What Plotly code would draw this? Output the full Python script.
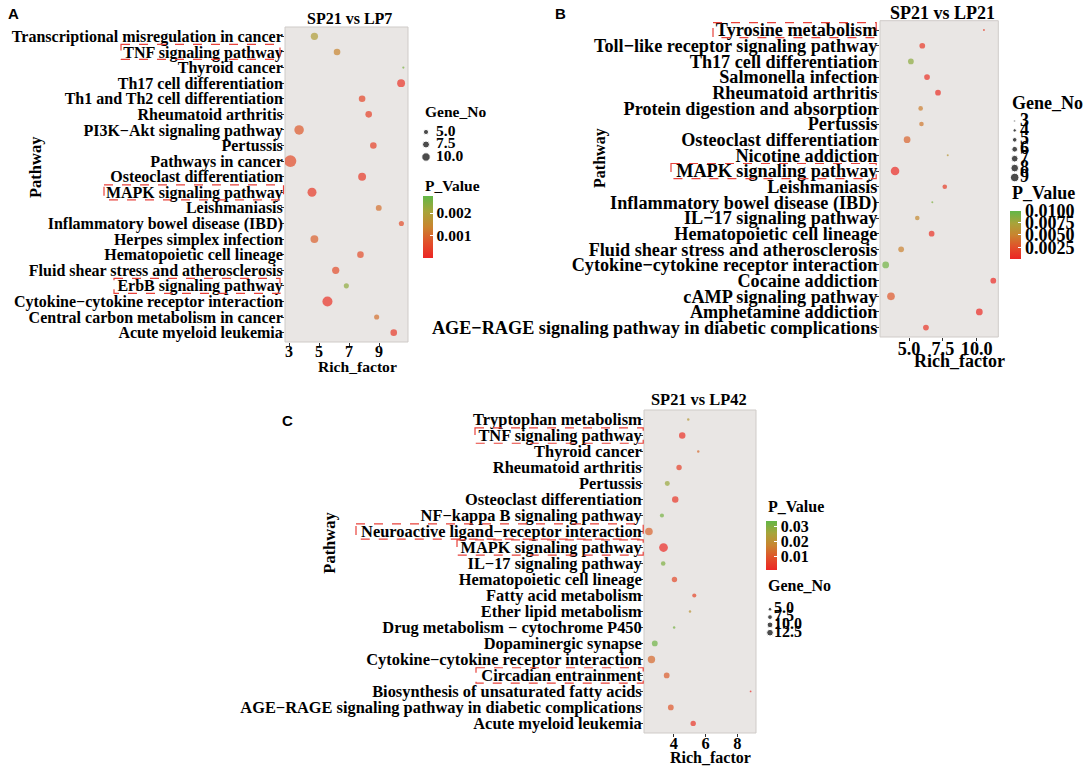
import numpy as np
import plotly.graph_objects as go

W, H = 1084, 776

# ---------------- data (rows listed top to bottom) ----------------
# A: SP21 vs LP7
pathways_a = [
    "Transcriptional misregulation in cancer", "TNF signaling pathway", "Thyroid cancer",
    "Th17 cell differentiation", "Th1 and Th2 cell differentiation", "Rheumatoid arthritis",
    "PI3K\u2212Akt signaling pathway", "Pertussis", "Pathways in cancer",
    "Osteoclast differentiation", "MAPK signaling pathway", "Leishmaniasis",
    "Inflammatory bowel disease (IBD)", "Herpes simplex infection", "Hematopoietic cell lineage",
    "Fluid shear stress and atherosclerosis", "ErbB signaling pathway",
    "Cytokine\u2212cytokine receptor interaction", "Central carbon metabolism in cancer",
    "Acute myeloid leukemia",
]
rich_a = [4.69, 6.2, 10.62, 10.47, 7.87, 8.31, 3.67, 8.62, 3.09, 7.87,
          4.53, 8.98, 10.49, 4.69, 7.76, 6.11, 6.82, 5.56, 8.84, 9.98]
gene_a = [8, 7, 2, 9, 7, 7, 12, 7, 17, 9, 11, 6, 5, 9, 7, 8, 5, 13, 5, 7]
pval_a = [0.0019, 0.0014, 0.0025, 0.0002, 0.0005, 0.0004, 0.0008, 0.0004, 0.0006, 0.0003,
          0.0003, 0.0011, 0.0006, 0.0009, 0.0006, 0.0006, 0.0023, 0.0002, 0.0011, 0.0003]

# B: SP21 vs LP21
pathways_b = [
    "Tyrosine metabolism", "Toll\u2212like receptor signaling pathway", "Th17 cell differentiation",
    "Salmonella infection", "Rheumatoid arthritis", "Protein digestion and absorption",
    "Pertussis", "Osteoclast differentiation", "Nicotine addiction", "MAPK signaling pathway",
    "Leishmaniasis", "Inflammatory bowel disease (IBD)", "IL\u221217 signaling pathway",
    "Hematopoietic cell lineage", "Fluid shear stress and atherosclerosis",
    "Cytokine\u2212cytokine receptor interaction", "Cocaine addiction", "cAMP signaling pathway",
    "Amphetamine addiction", "AGE\u2212RAGE signaling pathway in diabetic complications",
]
rich_b = [10.53, 5.98, 5.14, 6.33, 7.14, 5.86, 5.92, 4.86, 7.86, 3.97,
          7.64, 6.72, 5.61, 6.67, 4.42, 3.28, 11.22, 3.67, 10.19, 6.25]
gene_b = [3, 6, 6, 6, 6, 5, 5, 7, 3, 9, 5, 3, 5, 6, 6, 7, 6, 8, 7, 6]
pval_b = [0.0015, 0.0012, 0.0085, 0.0008, 0.0006, 0.0048, 0.0045, 0.0035, 0.0065, 0.0005,
          0.0015, 0.0090, 0.0055, 0.0008, 0.0050, 0.0095, 0.0004, 0.0030, 0.0004, 0.0010]

# C: SP21 vs LP42
pathways_c = [
    "Tryptophan metabolism", "TNF signaling pathway", "Thyroid cancer", "Rheumatoid arthritis",
    "Pertussis", "Osteoclast differentiation", "NF\u2212kappa B signaling pathway",
    "Neuroactive ligand\u2212receptor interaction", "MAPK signaling pathway",
    "IL\u221217 signaling pathway", "Hematopoietic cell lineage", "Fatty acid metabolism",
    "Ether lipid metabolism", "Drug metabolism \u2212 cytochrome P450", "Dopaminergic synapse",
    "Cytokine\u2212cytokine receptor interaction", "Circadian entrainment",
    "Biosynthesis of unsaturated fatty acids",
    "AGE\u2212RAGE signaling pathway in diabetic complications", "Acute myeloid leukemia",
]
rich_c = [4.91, 4.53, 5.54, 4.33, 3.59, 4.09, 3.25, 2.43, 3.35, 3.33,
          4.04, 5.29, 5.02, 4.02, 2.8, 2.59, 3.55, 8.84, 3.81, 5.22]
gene_c = [3, 12, 3, 9, 8, 12, 6, 16, 20, 7, 9, 6, 3, 3, 10, 15, 10, 2, 10, 9]
pval_c = [0.022, 0.003, 0.013, 0.006, 0.027, 0.004, 0.031, 0.012, 0.002, 0.030,
          0.008, 0.007, 0.021, 0.031, 0.032, 0.013, 0.011, 0.002, 0.010, 0.004]

# ticks / legend levels
ticks_a = [3, 5, 7, 9]
ticks_b = [5.0, 7.5, 10.0]
ticks_c = [4, 6, 8]
gene_levels_a = [5.0, 7.5, 10.0]
gene_levels_b = [3, 4, 5, 6, 7, 8, 9]
gene_levels_c = [5.0, 7.5, 10.0, 12.5]
p_ticks_a = [0.001, 0.002]
p_ticks_b = [0.0025, 0.0050, 0.0075, 0.0100]
p_ticks_c = [0.01, 0.02, 0.03]

highlight_a = ["TNF signaling pathway", "MAPK signaling pathway", "ErbB signaling pathway"]
highlight_b = ["Tyrosine metabolism", "MAPK signaling pathway"]
highlight_c = ["TNF signaling pathway", "Neuroactive ligand\u2212receptor interaction",
               "MAPK signaling pathway", "Circadian entrainment"]

# ---------------- style ----------------
SERIF = "Liberation Serif"
SANS = "Liberation Sans"
PANEL_BG = "#E9E6E4"
PV_SCALE = [[0.0, "#EC2624"], [0.25, "#E1502A"], [0.5, "#C9842F"],
            [0.75, "#A7A43A"], [1.0, "#62B747"]]


def fx(px):
    return px / W


def fy(py):
    return 1 - py / H


def dot_size(g, k, c):
    # sqrt (area) mapping like ggplot's scale_size, slightly enlarged
    return 1.1 * (k * np.sqrt(np.asarray(g, dtype=float)) + c)


fig = go.Figure()
annotations = []
shapes = []


def ann(text, x, y, size, angle=0, xanchor="center", family=SERIF):
    annotations.append(dict(text=text, x=fx(x), y=fy(y), xref="paper", yref="paper",
                            xanchor=xanchor, yanchor="middle", showarrow=False, textangle=angle,
                            font=dict(family=family, size=size, color="black", weight="bold")))


def add_panel(n, path, rich, gene, pval, k, c, cmin, cmax, xpx, ypx, xrange,
              ticks, ticktext, fs, cbar, highlights):
    s = "" if n == 1 else str(n)
    xr, yr = "x" + s, "y" + s
    ca = "coloraxis" + s
    fig.add_trace(go.Scatter(
        x=rich, y=path, mode="markers", xaxis=xr, yaxis=yr, showlegend=False,
        marker=dict(size=dot_size(gene, k, c), color=pval, coloraxis=ca, line=dict(width=0)),
        hovertemplate="%{y}<br>Rich_factor %{x}<extra></extra>"))
    tick_font = dict(family=SERIF, size=fs, color="black", weight="bold")
    fig.update_layout({
        "xaxis" + s: dict(domain=[fx(xpx[0]), fx(xpx[1])], range=xrange, anchor=yr,
                          tickmode="array", tickvals=ticks, ticktext=ticktext,
                          ticks="outside", ticklen=3, tickcolor="#333", ticklabelstandoff=-8,
                          showgrid=False, zeroline=False, tickfont=tick_font),
        "yaxis" + s: dict(domain=[fy(ypx[1]), fy(ypx[0])], anchor=xr, type="category",
                          categoryorder="array", categoryarray=path,
                          tickmode="array", tickvals=path, ticktext=path,
                          range=[len(path) - 1 + 0.6, -0.6], ticks="outside", ticklen=3,
                          tickcolor="#333", ticklabelstandoff=-5,
                          showgrid=False, zeroline=False, tickfont=tick_font),
        ca: dict(colorscale=PV_SCALE, cmin=cmin, cmax=cmax, colorbar=cbar),
    })
    shapes.append(dict(type="rect", xref=xr + " domain", yref=yr + " domain",
                       x0=0, x1=1, y0=0, y1=1, fillcolor=PANEL_BG,
                       line=dict(color="#CFCBC8", width=1), layer="below"))
    for name, left, right in highlights:
        i = path.index(name)
        shapes.append(dict(type="rect", xref="paper", yref=yr, x0=fx(left), x1=fx(right),
                           y0=i - 0.48, y1=i + 0.48,
                           line=dict(color="#E8413A", width=1.2, dash="dash")))


def colorbar(xpx, ytop, ybot, thick, tickvals, ticktext, fs):
    return dict(x=fx(xpx), xanchor="left", xpad=0, y=fy((ytop + ybot) / 2), yanchor="middle",
                ypad=0, len=ybot - ytop, lenmode="pixels", thickness=thick,
                thicknessmode="pixels", outlinewidth=0, ticks="inside", ticklen=3,
                tickcolor="white", tickvals=tickvals, ticktext=ticktext,
                tickfont=dict(family=SERIF, size=fs, color="black", weight="bold"))


def size_legend(n, levels, labels, k, c, dot_x, label_x, y_first, y_last, fs):
    # small hidden axes in pixel units: x = 0 at the dot centre
    s = str(n)
    step = (y_last - y_first) / (len(levels) - 1)
    idx = list(range(len(levels)))
    fig.add_trace(go.Scatter(
        x=[0] * len(levels), y=idx, mode="markers", xaxis="x" + s, yaxis="y" + s,
        showlegend=False, hoverinfo="skip", cliponaxis=False,
        marker=dict(size=dot_size(levels, k, c), color="black")))
    fig.add_trace(go.Scatter(
        x=[label_x - dot_x] * len(levels), y=idx, mode="text", text=labels,
        textposition="middle right", xaxis="x" + s, yaxis="y" + s, showlegend=False,
        hoverinfo="skip", cliponaxis=False,
        textfont=dict(family=SERIF, size=fs, color="black", weight="bold")))
    fig.update_layout({
        "xaxis" + s: dict(domain=[fx(dot_x - 10), fx(dot_x + 60)], range=[-10, 60],
                          anchor="y" + s, visible=False),
        "yaxis" + s: dict(domain=[fy(y_last + step / 2), fy(y_first - step / 2)],
                          range=[len(levels) - 0.5, -0.5], anchor="x" + s, visible=False),
    })


# ---------------- panel A ----------------
add_panel(1, pathways_a, rich_a, gene_a, pval_a, 3.25, -2.6, 0.0, 0.00275,
          (285, 408), (27, 342), [2.73, 10.93], ticks_a, [str(t) for t in ticks_a], 16,
          colorbar(422.7, 196, 258.3, 10, p_ticks_a, ["0.001", "0.002"], 15.5),
          [(highlight_a[0], 121, 280), (highlight_a[1], 104, 283.5), (highlight_a[2], 114, 280)])
size_legend(4, gene_levels_a, ["5.0", "7.5", "10.0"], 3.25, -2.6, 426, 436, 132, 157, 15.5)
ann("A", 13.5, 13.5, 15, family=SANS)
ann("SP21 vs LP7", 349, 18.3, 16)
ann("Rich_factor", 357.8, 366, 15.6)
ann("Pathway", 35, 167, 16.5, angle=-90)
ann("Gene_No", 422.7, 111.7, 15.5, xanchor="left")
ann("P_Value", 422.7, 185, 15.5, xanchor="left")

# ---------------- panel B ----------------
add_panel(2, pathways_b, rich_b, gene_b, pval_b, 4.73, -6.39, 0.0002, 0.0100,
          (880, 998.3), (20.7, 337), [2.86, 11.59], ticks_b, ["5.0", "7.5", "10.0"], 18.2,
          colorbar(1010, 210.7, 258.3, 10.5, p_ticks_b,
                   ["0.0025", "0.0050", "0.0075", "0.0100"], 18),
          [(highlight_b[0], 713, 876.2), (highlight_b[1], 671, 876.2)])
size_legend(5, gene_levels_b, [str(g) for g in gene_levels_b], 4.73, -6.39,
            1014.7, 1020, 121, 177.5, 18)
ann("B", 560.7, 13.5, 15, family=SANS)
ann("SP21 vs LP21", 942.3, 13.3, 18)
ann("Rich_factor", 959.4, 361, 18)
ann("Pathway", 600.6, 158.3, 16, angle=-90)
ann("Gene_No", 1010, 103.3, 18, xanchor="left")
ann("P_Value", 1010, 193, 18, xanchor="left")

# ---------------- panel C ----------------
add_panel(3, pathways_c, rich_c, gene_c, pval_c, 2.08, -1.35, 0.0013, 0.0333,
          (644, 756), (410, 733), [2.12, 9.18], ticks_c, [str(t) for t in ticks_c], 16.4,
          colorbar(766, 521, 570, 10.5, p_ticks_c, ["0.01", "0.02", "0.03"], 16),
          [(highlight_c[0], 475, 643.2), (highlight_c[1], 356, 643.2),
           (highlight_c[2], 457, 643.2), (highlight_c[3], 476, 643.2)])
size_legend(6, gene_levels_c, ["5.0", "7.5", "10.0", "12.5"], 2.08, -1.35,
            770, 774, 609.3, 632.7, 16)
ann("C", 287.3, 420.7, 15, family=SANS)
ann("SP21 vs LP42", 699.4, 400, 16.4)
ann("Rich_factor", 710.5, 757.7, 16)
ann("Pathway", 329.4, 542.3, 16.5, angle=-90)
ann("P_Value", 766, 506.7, 16, xanchor="left")
ann("Gene_No", 766, 585, 16, xanchor="left")

fig.update_layout(
    width=W, height=H,
    margin=dict(l=0, r=0, t=0, b=0),
    paper_bgcolor="white",
    plot_bgcolor="rgba(0,0,0,0)",
    annotations=annotations,
    shapes=shapes,
    showlegend=False,
)

fig.write_html("out.html", config={"displayModeBar": False},
               post_script="document.body.style.margin = '0';")
